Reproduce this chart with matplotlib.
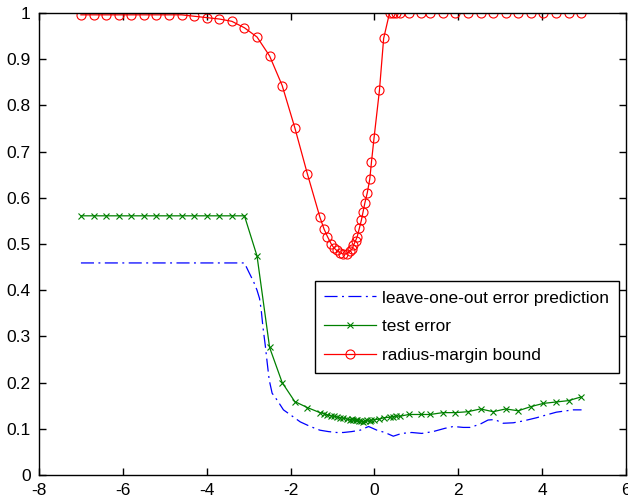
import numpy as np
import matplotlib
matplotlib.use('Agg')
import matplotlib.pyplot as plt

plt.rcParams['font.family'] = ['Liberation Sans', 'DejaVu Sans']
plt.rcParams['axes.unicode_minus'] = False
plt.rcParams['lines.scale_dashes'] = False

# shared x grid of the test error and the bound
x = [-7.0, -6.7, -6.4, -6.1, -5.8, -5.5, -5.2, -4.9, -4.6, -4.3, -4.0, -3.7, -3.4, -3.1,
     -2.8, -2.5, -2.2, -1.9, -1.6, -1.3,
     -1.2, -1.12, -1.03, -0.97, -0.9, -0.82, -0.74, -0.66, -0.58, -0.53, -0.5, -0.45,
     -0.41, -0.36, -0.31, -0.27, -0.23, -0.17, -0.11, -0.07, -0.01, 0.12, 0.22, 0.36,
     0.44, 0.52, 0.6, 0.82, 1.11,
     1.33, 1.63, 1.93, 2.23, 2.53, 2.83, 3.13, 3.43, 3.73, 4.03, 4.33, 4.63, 4.93]

# radius-margin bound
bound = [0.996, 0.996, 0.996, 0.996, 0.996, 0.996, 0.996, 0.996, 0.996, 0.993, 0.990, 0.987,
         0.982, 0.968, 0.948, 0.907, 0.843, 0.752, 0.652, 0.558,
         0.532, 0.516, 0.500, 0.492, 0.486, 0.481, 0.478, 0.479, 0.484, 0.490, 0.497, 0.507,
         0.516, 0.534, 0.552, 0.570, 0.588, 0.611, 0.641, 0.678, 0.729, 0.833, 0.945, 1.0,
         1.0, 1.0, 1.0, 1.0, 1.0,
         1.0, 1.0, 1.0, 1.0, 1.0, 1.0, 1.0, 1.0, 1.0, 1.0, 1.0, 1.0, 1.0]

# test error
test_err = [0.561, 0.561, 0.561, 0.561, 0.561, 0.561, 0.561, 0.561, 0.561, 0.561, 0.561,
            0.561, 0.561, 0.561, 0.474, 0.276, 0.200, 0.159, 0.146, 0.135,
            0.133, 0.130, 0.128, 0.127, 0.126, 0.124, 0.123, 0.121, 0.120, 0.122, 0.119, 0.118,
            0.120, 0.116, 0.117, 0.115, 0.117, 0.118, 0.116, 0.119, 0.120, 0.121, 0.124, 0.125,
            0.126, 0.128, 0.127, 0.131, 0.131,
            0.131, 0.135, 0.135, 0.137, 0.143, 0.137, 0.143, 0.139, 0.148, 0.155, 0.158, 0.161,
            0.169]

# leave-one-out prediction
x_loo = [-7.0, -3.1, -3.0, -2.88, -2.8, -2.74, -2.7, -2.66, -2.6, -2.56, -2.51, -2.44, -2.32,
         -2.17, -2.0, -1.77, -1.53, -1.3, -1.1, -0.9, -0.74, -0.54, -0.34, -0.14, 0.06, 0.25,
         0.45, 0.65, 0.89, 1.13, 1.4, 1.68, 1.88, 2.12, 2.28, 2.52, 2.71, 2.87, 3.07, 3.31,
         3.55, 3.87, 4.1, 4.34, 4.58, 4.74, 4.94]
loo = [0.459, 0.459, 0.440, 0.418, 0.400, 0.382, 0.357, 0.321, 0.278, 0.245, 0.206, 0.177,
       0.162, 0.141, 0.130, 0.115, 0.105, 0.097, 0.094, 0.092, 0.092, 0.094, 0.097, 0.105,
       0.097, 0.092, 0.084, 0.090, 0.092, 0.090, 0.094, 0.101, 0.105, 0.103, 0.103, 0.110,
       0.119, 0.120, 0.112, 0.113, 0.117, 0.124, 0.130, 0.136, 0.139, 0.141, 0.141]

xticks = [-8, -6, -4, -2, 0, 2, 4, 6]
yticks = [0, 0.1, 0.2, 0.3, 0.4, 0.5, 0.6, 0.7, 0.8, 0.9, 1]
ytick_labels = ['0', '0.1', '0.2', '0.3', '0.4', '0.5', '0.6', '0.7', '0.8', '0.9', '1']

fig = plt.figure(figsize=(6.28, 5.0), dpi=100)
ax = fig.add_axes([39 / 628, 25 / 500, 587 / 628, 462 / 500])

ax.plot(x_loo, loo, color='#0000ff', lw=0.9, dashes=[9.4, 3.2, 1.4, 3.2],
        label='leave-one-out error prediction')
ax.plot(x, test_err, color='#008000', lw=0.9, marker='x', ms=5, mew=0.8,
        label='test error')
ax.plot(x, bound, color='#ff0000', lw=0.9, marker='o', ms=6.5, mew=0.8, mfc='none',
        label='radius-margin bound')

ax.set_xlim(-8, 6)
ax.set_ylim(0, 1)
ax.set_xticks(xticks)
ax.set_xticklabels([str(t) for t in xticks])
ax.set_yticks(yticks)
ax.set_yticklabels(ytick_labels)
ax.tick_params(direction='in', length=5, width=1, top=True, right=True,
               labelsize=12.5, colors='black')
ax.tick_params(axis='x', pad=6)
ax.tick_params(axis='y', pad=6)
for s in ax.spines.values():
    s.set_linewidth(1.0)

leg = ax.legend(loc='upper left', bbox_to_anchor=((315 - 39) / 587, (475 - 281) / 462),
                borderaxespad=0, fontsize=12.4, numpoints=1, handlelength=3.0,
                handletextpad=0.35, labelspacing=0.8, borderpad=0.55, fancybox=False,
                framealpha=1)
leg.get_frame().set_edgecolor('black')
leg.get_frame().set_linewidth(1.0)

fig.savefig('out.png', dpi=100)
